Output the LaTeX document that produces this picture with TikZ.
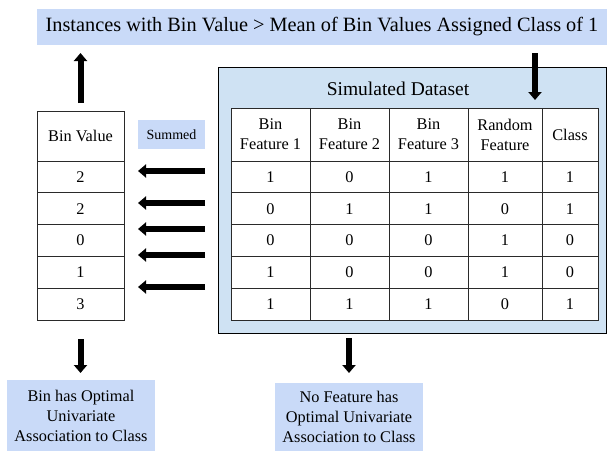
\documentclass[tikz,border=0pt]{standalone}
\usepackage{fontspec}
\setmainfont{Liberation Serif}
\usetikzlibrary{arrows.meta}
\definecolor{bandblue}{HTML}{C9DAF8}
\definecolor{setblue}{HTML}{CFE2F3}
\definecolor{gridline}{HTML}{2A2A2A}

\begin{document}
\begin{tikzpicture}[x=1pt,y=-1pt,
  every node/.style={inner sep=0pt, outer sep=0pt, align=center},
  tablefont/.style={font=\fontsize{16.3}{20}\selectfont},
  cell/.style={draw=gridline, line width=0.8pt, fill=white, tablefont, anchor=north west},
  bluebox/.style={fill=bandblue, anchor=north west},
  bigarrow/.style={line width=6pt, -{Triangle[length=8pt,width=13pt]}},
]
\useasboundingbox (0,0) rectangle (607,451);

% heading band
\node[bluebox, minimum width=570pt, minimum height=36pt,
      font=\fontsize{20.3}{24}\selectfont] (banner) at (37,9)
  {Instances with Bin Value > Mean of Bin Values Assigned Class of 1};

% simulated dataset panel
\node[draw=black, fill=setblue, line width=0.8pt, anchor=north west,
      minimum width=388pt, minimum height=266pt] (ds) at (218,67) {};
\node[font=\fontsize{19.5}{22}\selectfont] (dstitle) at (398,89) {Simulated Dataset};

% dataset header row
\foreach \c/\x/\w/\t in {1/231/79/{Bin\\Feature 1}, 2/310/79/{Bin\\Feature 2},
                        3/389/79/{Bin\\Feature 3}, 4/468/74/{Random\\Feature},
                        5/542/56/{Class}}
  \node[cell, minimum width=\w pt, minimum height=53pt] (h\c) at (\x,108) {\t};

% dataset rows
\foreach \r/\ua/\ub/\uc/\ud/\ue in {1/1/0/1/1/1, 2/0/1/1/0/1, 3/0/0/0/1/0,
                                  4/1/0/0/1/0, 5/1/1/1/0/1} {
  \pgfmathsetmacro\yy{161+(\r-1)*31.8}
  \foreach \c/\x/\w/\v in {1/231/79/\ua, 2/310/79/\ub, 3/389/79/\uc,
                          4/468/74/\ud, 5/542/56/\ue}
    \node[cell, minimum width=\w pt, minimum height=31.8pt] (d\r\c) at (\x,\yy) {\v};
}

% bin value column
\node[cell, minimum width=87pt, minimum height=50pt] (binh) at (37,111) {Bin Value};
\foreach \r/\v in {1/2, 2/2, 3/0, 4/1, 5/3} {
  \pgfmathsetmacro\yy{161+(\r-1)*31.8}
  \node[cell, minimum width=87pt, minimum height=31.8pt] (b\r) at (37,\yy) {\v};
}

% summed label
\node[bluebox, minimum width=67pt, minimum height=29pt,
      font=\fontsize{14}{17}\selectfont] (summed) at (138,120) {Summed};

% conclusion boxes
\node[bluebox, minimum width=148pt, minimum height=71pt, tablefont] (binopt) at (7,380)
  {Bin has Optimal\\Univariate\\Association to Class};
\node[bluebox, minimum width=148pt, minimum height=68pt, tablefont] (nofeat) at (275,383)
  {No Feature has\\Optimal Univariate\\Association to Class};

% arrows
\draw[bigarrow, shorten <=8pt, shorten >=8pt] (binh.north) -- (binh.north |- banner.south);
\coordinate (dsin) at (535,100);
\draw[bigarrow, shorten <=8pt] (dsin |- banner.south) -- (dsin);
\foreach \yy in {171,203,229,255,287}
  \draw[bigarrow, shorten <=13pt, shorten >=14pt] (ds.west |- 0,\yy) -- (b1.east |- 0,\yy);
\draw[bigarrow, shorten <=19pt, shorten >=7pt] (b5.south) -- (b5.south |- binopt.north);
\draw[bigarrow, shorten <=5pt, shorten >=10pt] (nofeat.north |- ds.south) -- (nofeat.north);
\end{tikzpicture}
\end{document}
